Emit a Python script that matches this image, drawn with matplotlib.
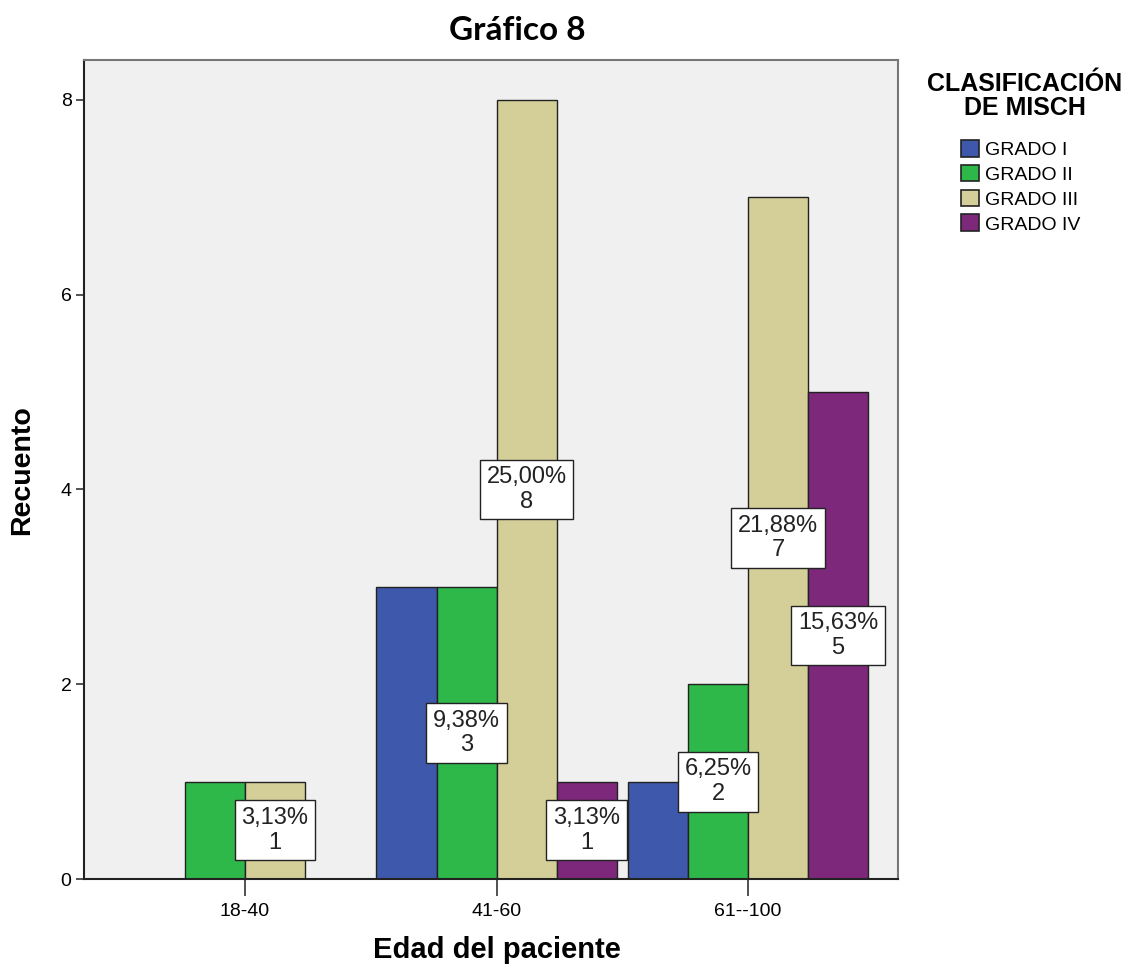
from decimal import Decimal, ROUND_HALF_UP

import matplotlib
matplotlib.use("Agg")
import matplotlib.pyplot as plt
import numpy as np
from matplotlib.patches import Patch

# counts per age group and Misch class
age_groups = ["18-40", "41-60", "61--100"]
grades = ["GRADO I", "GRADO II", "GRADO III", "GRADO IV"]
grado_i = [0, 3, 1]
grado_ii = [1, 3, 2]
grado_iii = [1, 8, 7]
grado_iv = [0, 1, 5]
# which bars carry a value label (the rest are hidden by overlap)
show_i = [False, False, False]
show_ii = [False, True, True]
show_iii = [True, True, True]
show_iv = [False, True, True]

colors = ["#3E58AC", "#2EB84A", "#D4CF98", "#7E287C"]
arial = ["Liberation Sans", "DejaVu Sans"]


def pct_label(value, total):
    pct = Decimal(value * 100) / Decimal(total)
    pct = pct.quantize(Decimal("0.01"), rounding=ROUND_HALF_UP)
    return f"{pct}%".replace(".", ",") + f"\n{value}"


series = [grado_i, grado_ii, grado_iii, grado_iv]
shown = [show_i, show_ii, show_iii, show_iv]
total = sum(sum(s) for s in series)

fig = plt.figure(figsize=(11.37, 9.64), dpi=100)
ax = fig.add_axes([84 / 1137, 1 - 879 / 964, (898 - 84) / 1137, (879 - 60) / 964])
ax.set_facecolor("#F0F0F0")

x = np.arange(len(age_groups))
width = 0.2386
for i, (vals, color) in enumerate(zip(series, colors)):
    pos = x + (i - 1.5) * width
    ax.bar(pos, vals, width=width, color=color, edgecolor="#222222",
           linewidth=1.0, zorder=2)

for i, vals in enumerate(series):
    pos = x + (i - 1.5) * width
    for xp, v, flag in zip(pos, vals, shown[i]):
        if not flag or v == 0:
            continue
        ax.text(xp, v / 2, pct_label(v, total), ha="center", va="center",
                fontsize=17, family=arial, color="#222222", linespacing=1.15,
                zorder=4,
                bbox=dict(boxstyle="square,pad=0.28", facecolor="white",
                          edgecolor="#222222", linewidth=1.0))

ax.set_xlim(-0.64, 2.596)
ax.set_ylim(0, 8.41)
ax.set_xticks(x)
ax.set_xticklabels(age_groups, family=arial, fontsize=14)
ax.set_yticks([0, 2, 4, 6, 8])
ax.set_yticklabels(["0", "2", "4", "6", "8"], family=arial, fontsize=14)
ax.tick_params(axis="x", length=12, width=1.2, color="#333333", pad=5)
ax.tick_params(axis="y", length=6, width=1.2, color="#333333", pad=3)
for side in ["left", "bottom"]:
    ax.spines[side].set_color("#222222")
    ax.spines[side].set_linewidth(1.5)
for side in ["top", "right"]:
    ax.spines[side].set_color("#777777")
    ax.spines[side].set_linewidth(1.5)

fig.text(22 / 1137, 1 - 470 / 964, "Recuento", rotation=90, ha="center",
         va="center", family=arial, fontsize=20.5, fontweight="bold")
fig.text(497 / 1137, 1 - 950 / 964, "Edad del paciente", ha="center",
         va="center", family=arial, fontsize=21, fontweight="bold")

fig.text(517 / 1137, 1 - 30 / 964, "Gráfico 8", ha="center", va="center",
         family=["Lato", "Open Sans", "DejaVu Sans"], fontsize=24,
         fontweight="bold")

# legend title drawn on its own so the gap under it can be set freely
fig.text(1025 / 1137, 1 - 96 / 964, "CLASIFICACIÓN\nDE MISCH", ha="center",
         va="center", multialignment="center", linespacing=0.95,
         family=arial, fontsize=18, fontweight="bold")

handles = [Patch(facecolor=c, edgecolor="#222222", linewidth=1.2) for c in colors]
fig.legend(handles, grades, loc="upper left",
           bbox_to_anchor=(953 / 1137, 1 - 132 / 964), frameon=False,
           prop={"family": arial, "size": 14},
           handlelength=0.95, handleheight=0.95, handletextpad=0.3,
           labelspacing=0.3, borderaxespad=0)

fig.savefig("out.png", dpi=100)
